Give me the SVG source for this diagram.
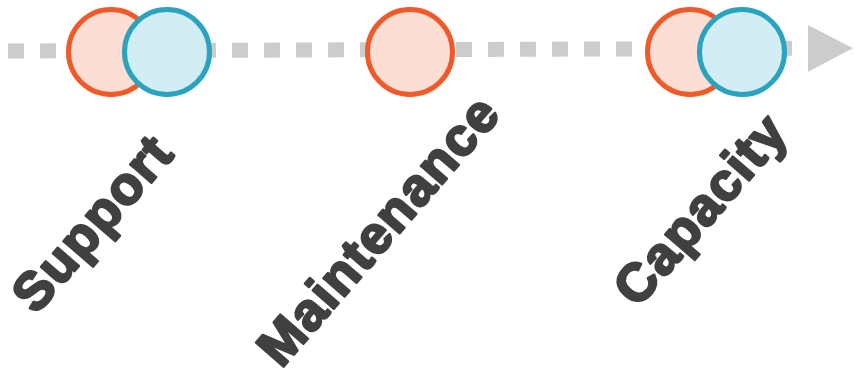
<svg xmlns="http://www.w3.org/2000/svg" width="854" height="378" viewBox="0 0 854 378">
<style>
.o{fill:#FCDED5;stroke:#F05A28;stroke-width:5}
.b{fill:#D2EDF3;stroke:#2AA3BF;stroke-width:5}
.t{font-family:"Liberation Sans",Arial,sans-serif;font-weight:bold;font-size:53px;fill:#404040;stroke:#404040;stroke-width:2.5;stroke-linejoin:round;text-anchor:middle;letter-spacing:1.5px}
</style>
<g id="connectors">
<line x1="8" y1="51" x2="808" y2="48.3" stroke="#CCCCCC" stroke-width="15" stroke-dasharray="16 16"/>
<polygon points="808,25 853,48.3 808,71.7" fill="#CCCCCC"/>
</g>
<g id="support">
<circle class="o" cx="111" cy="52" r="42.5"/>
<circle class="b" cx="167" cy="52" r="42.5"/>
<text class="t" transform="translate(106,235) rotate(-49)">Support</text>
</g>
<g id="maintenance">
<circle class="o" cx="410" cy="52" r="42.5"/>
<text class="t" transform="translate(392,242) rotate(-49)" font-size="52">Maintenance</text>
</g>
<g id="capacity">
<circle class="o" cx="690" cy="52" r="42.5"/>
<circle class="b" cx="742" cy="52" r="42.5"/>
<text class="t" transform="translate(714,221) rotate(-49)">Capacity</text>
</g>
</svg>
